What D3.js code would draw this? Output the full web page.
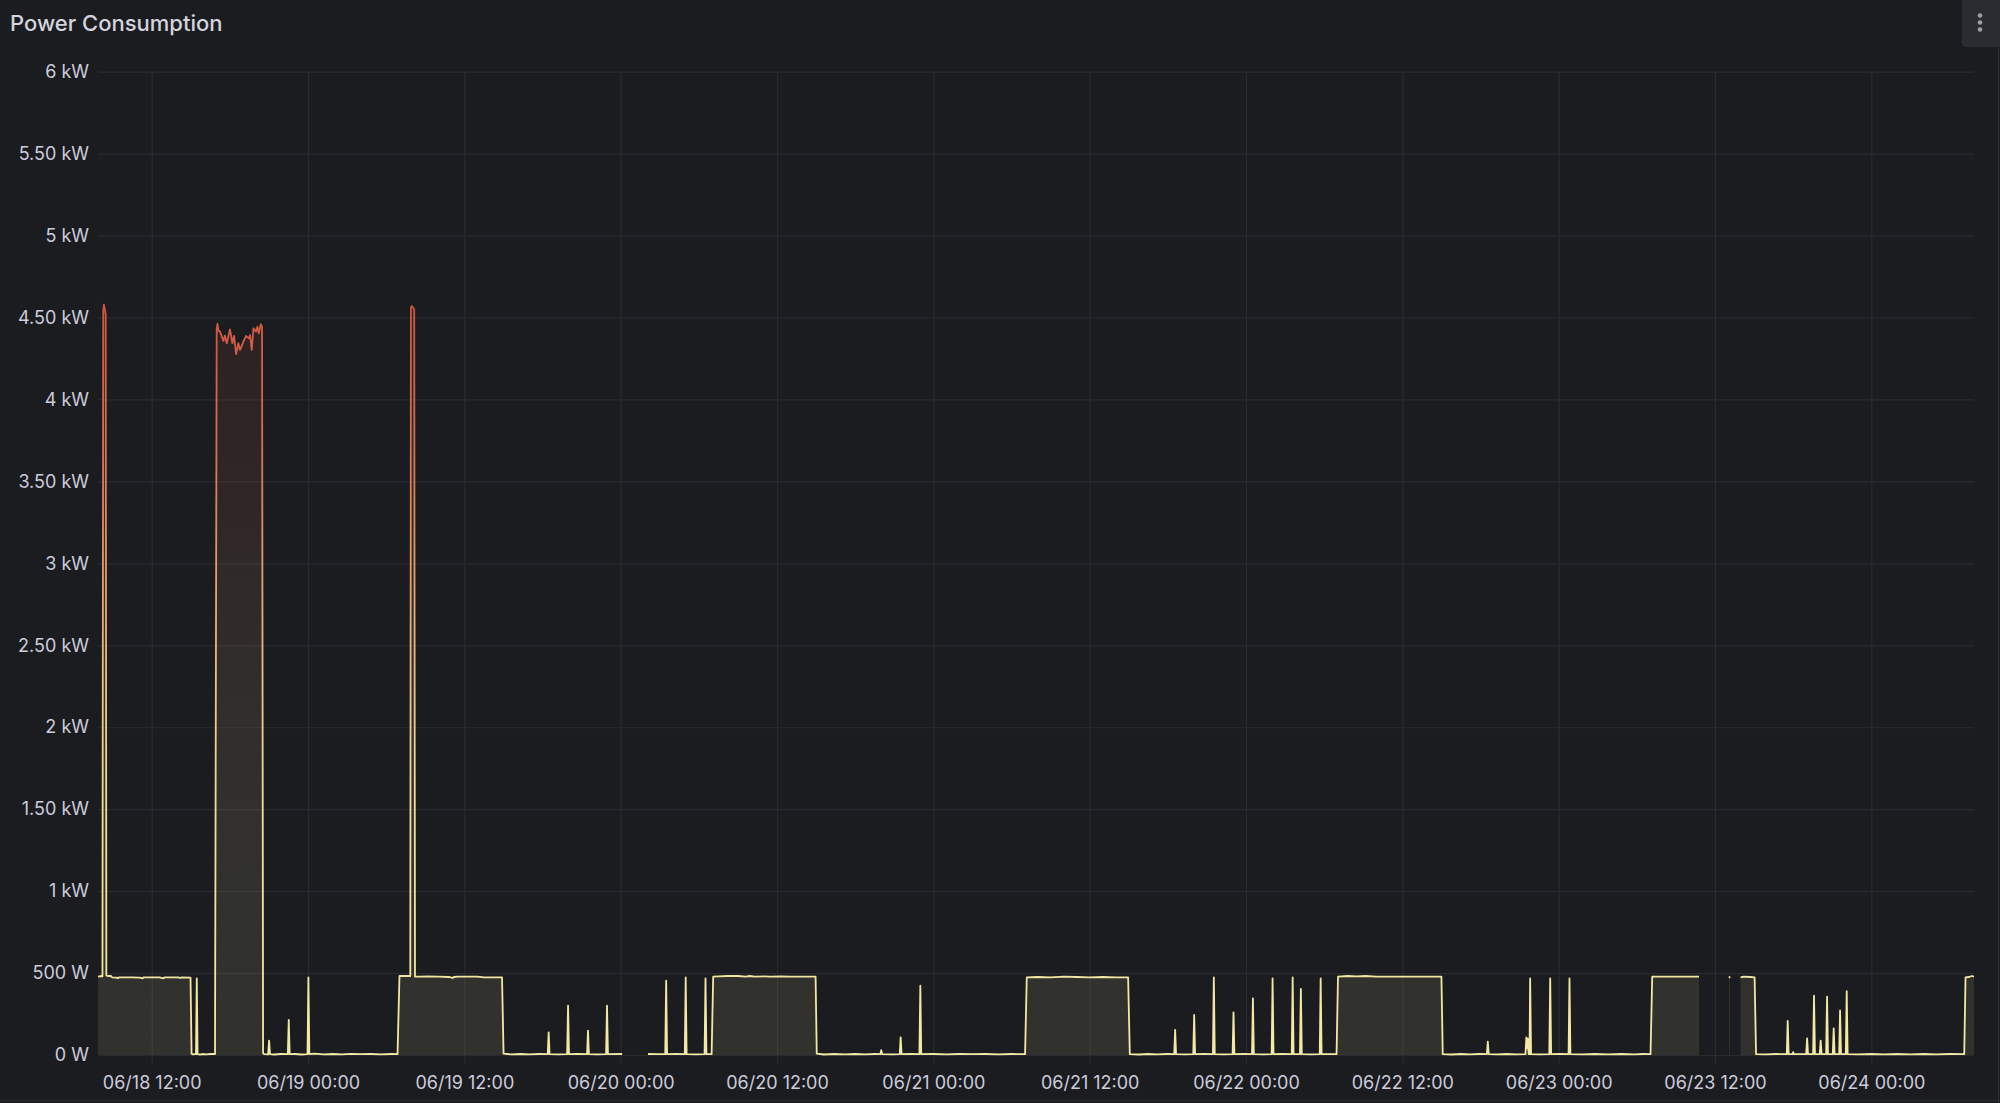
<!DOCTYPE html>
<html>
<head>
<meta charset="utf-8">
<script src="https://cdn.jsdelivr.net/npm/d3@7"></script>
<style>
  html, body { margin: 0; padding: 0; background: #1b1c20; overflow: hidden; }
  svg { display: block; }
  text { font-family: Inter, "Noto Sans", sans-serif; }
</style>
</head>
<body>
<svg id="chart" width="2000" height="1103"></svg>
<script>
// ---------------- DATA ----------------
const chartTitle = "Power Consumption";
const baseDate = new Date(2024, 5, 18, 0, 0, 0); // 06/18 00:00
// visible window, hours since 06/18 00:00
const windowHours = [7.878, 151.88];

const yTickValues = [0, 500, 1000, 1500, 2000, 2500, 3000, 3500, 4000, 4500, 5000, 5500, 6000];
const yTickLabels = ["0 W", "500 W", "1 kW", "1.50 kW", "2 kW", "2.50 kW", "3 kW", "3.50 kW", "4 kW", "4.50 kW", "5 kW", "5.50 kW", "6 kW"];

const xTickHours = [12, 24, 36, 48, 60, 72, 84, 96, 108, 120, 132, 144];
const xTickLabels = ["06/18 12:00", "06/19 00:00", "06/19 12:00", "06/20 00:00", "06/20 12:00", "06/21 00:00",
                     "06/21 12:00", "06/22 00:00", "06/22 12:00", "06/23 00:00", "06/23 12:00", "06/24 00:00"];

// [hours since 06/18 00:00, watts] — contiguous runs of samples (gaps between runs)
const run1 = [
  [7.88, 478], [8.15, 482], [8.22, 480], [8.28, 4540], [8.33, 4578], [8.40, 4550], [8.47, 4520], [8.52, 485],
  [8.70, 482], [8.88, 482], [8.95, 474], [9.3, 472], [9.4, 468], [9.5, 474], [10.5, 474], [11.1, 472],
  [11.3, 468], [11.4, 474], [12.6, 474], [12.9, 468], [13.0, 474], [14.0, 474], [14.2, 470], [14.3, 474],
  [14.98, 472], [15.06, 8], [15.15, 4], [15.32, 5], [15.40, 5], [15.46, 468], [15.52, 5], [15.7, 3], [15.9, 6],
  [16.2, 4], [16.5, 6], [16.86, 6],
  [16.99, 4428], [17.05, 4462], [17.12, 4420], [17.25, 4414], [17.50, 4357], [17.62, 4390], [17.76, 4343], [18.01, 4428],
  [18.19, 4343], [18.32, 4388], [18.48, 4277], [18.65, 4343], [18.78, 4302], [19.04, 4353],
  [19.24, 4388], [19.47, 4373], [19.55, 4393], [19.68, 4302], [19.81, 4434], [20.01, 4414],
  [20.11, 4444], [20.22, 4404], [20.37, 4459], [20.47, 4444],
  [20.55, 10], [20.65, 5], [20.94, 4], [21.01, 88], [21.08, 5], [21.4, 3], [21.9, 6], [22.45, 5],
  [22.52, 214], [22.59, 5], [23.0, 6], [23.5, 3], [23.96, 5], [24.03, 474], [24.10, 5], [24.5, 8],
  [25.2, 4], [25.9, 6], [26.6, 4], [27.3, 7], [28.0, 5], [28.8, 6], [29.6, 4], [30.4, 6], [30.87, 5],
  [31.02, 482], [31.6, 482], [31.85, 482], [31.90, 4560], [31.96, 4570], [32.05, 4562], [32.15, 4548], [32.21, 478],
  [32.6, 478], [33.2, 480], [34.0, 478], [34.8, 476], [35.1, 470], [35.2, 476], [35.5, 478], [36.3, 478],
  [37.0, 478], [37.5, 474], [38.2, 474], [38.89, 474], [39.01, 8], [39.6, 4], [40.3, 6], [41.0, 4],
  [41.7, 6], [42.40, 5], [42.47, 138], [42.54, 5], [43.2, 4], [43.89, 5], [43.96, 301], [44.03, 5],
  [44.7, 6], [45.42, 5], [45.49, 148], [45.56, 5], [46.2, 4], [46.88, 5], [46.95, 301], [47.02, 5], [48.11, 6]
];

const run2 = [
  [50.10, 6], [50.8, 5], [51.42, 5], [51.49, 453], [51.56, 5], [52.2, 6], [52.92, 5], [52.99, 474], [53.06, 5],
  [53.8, 4], [54.44, 5], [54.51, 468], [54.58, 5], [54.98, 5], [55.10, 478], [55.5, 480], [56.2, 482],
  [57.0, 482], [57.6, 478], [57.9, 482], [58.3, 478], [59.0, 480], [59.5, 478], [60.3, 480], [61.0, 478],
  [62.0, 478], [62.96, 478], [63.05, 8], [63.6, 3], [64.4, 6], [65.2, 4], [66.0, 6], [66.8, 4], [67.5, 6],
  [67.93, 5], [68.0, 30], [68.07, 5], [68.8, 4], [69.42, 5], [69.49, 108], [69.56, 5], [70.3, 6],
  [70.93, 5], [71.0, 423], [71.07, 5], [72.0, 6], [73.0, 4], [74.0, 6], [75.0, 5], [76.0, 6], [77.0, 4],
  [78.0, 6], [79.04, 5], [79.17, 474], [80.0, 476], [81.0, 474], [82.0, 478], [83.0, 476], [84.0, 474],
  [85.0, 476], [86.0, 474], [86.95, 474], [87.08, 5], [87.8, 3], [88.5, 6], [89.2, 4], [89.9, 6],
  [90.49, 5], [90.56, 153], [90.63, 5], [91.3, 4], [91.95, 5], [92.02, 244], [92.09, 5], [92.8, 6],
  [93.46, 5], [93.53, 474], [93.60, 5], [94.3, 4], [94.97, 5], [95.04, 260], [95.11, 5], [95.8, 6],
  [96.46, 5], [96.53, 346], [96.60, 5], [97.3, 4], [97.97, 5], [98.04, 468], [98.11, 5], [98.8, 6],
  [99.51, 5], [99.58, 474], [99.65, 5], [100.14, 5], [100.21, 403], [100.28, 5], [101.0, 4],
  [101.66, 5], [101.73, 468], [101.80, 5], [102.95, 5], [103.06, 478], [103.8, 482], [104.5, 480],
  [105.2, 482], [106.0, 478], [107.0, 478], [108.0, 478], [109.0, 478], [110.0, 478], [111.0, 478],
  [111.10, 5], [111.8, 3], [112.5, 6], [113.2, 4], [113.9, 6], [114.49, 5], [114.56, 81], [114.63, 5],
  [115.3, 4], [116.0, 6], [116.8, 4], [117.45, 5], [117.52, 108], [117.58, 40], [117.63, 100], [117.70, 5],
  [117.76, 5], [117.81, 468], [117.88, 5], [118.6, 4], [119.28, 5], [119.35, 468], [119.42, 5], [120.1, 6],
  [120.76, 5], [120.83, 468], [120.90, 5], [121.8, 4], [122.8, 6], [123.8, 4], [124.8, 6], [125.8, 4],
  [126.5, 6], [127.05, 5], [127.18, 478], [128.0, 478], [129.0, 478], [130.0, 478], [130.77, 478]
];

const run3 = [[133.08, 480], [133.15, 470]];

const run4 = [
  [133.96, 474], [134.2, 478], [134.7, 476], [135.04, 474], [135.15, 5], [135.9, 4], [136.7, 6],
  [137.51, 5], [137.58, 208], [137.65, 5], [137.95, 5], [138.0, 18], [138.05, 5], [139.0, 5],
  [139.07, 101], [139.14, 5], [139.53, 5], [139.60, 362], [139.67, 5], [140.04, 5], [140.11, 88],
  [140.18, 5], [140.53, 5], [140.60, 356], [140.67, 5], [141.04, 5], [141.11, 163], [141.18, 5],
  [141.53, 5], [141.60, 272], [141.67, 5], [142.04, 5], [142.11, 389], [142.18, 5], [143.0, 4],
  [144.0, 6], [145.0, 4], [146.0, 6], [147.0, 4], [148.0, 6], [149.0, 4], [150.0, 6], [151.13, 5],
  [151.23, 474], [151.5, 476], [151.7, 482], [151.88, 478]
];

const runs = [run1, run2, run3, run4];

// colour scheme stops (value in W -> colour)
const schemeValues = [0, 1500, 2300, 3000, 3700, 4600];
const schemeColors = ["#f3e9a6", "#f1df98", "#ecc183", "#e39a6a", "#d8714f", "#cf5440"];

// ---------------- CHART ----------------
const W = 2000, H = 1103;
const plot = { left: 98, right: 1974, top: 71.7, bottom: 1055 };
const svg = d3.select("#chart");
const toDate = h => new Date(baseDate.getTime() + h * 3600 * 1000);

svg.append("rect").attr("width", W).attr("height", H).attr("fill", "#1b1c20");

const x = d3.scaleTime().domain(windowHours.map(toDate)).range([plot.left, plot.right]);
const y = d3.scaleLinear().domain([0, 6000]).range([plot.bottom, plot.top]);

// title
svg.append("text").attr("x", 10).attr("y", 31)
  .attr("fill", "#d3d4de").attr("font-size", 22).attr("font-weight", 500)
  .text(chartTitle);

// menu button
svg.append("rect").attr("x", 1962).attr("y", -6).attr("width", 40).attr("height", 53).attr("rx", 4)
  .attr("fill", "#2b2c31");
[15.5, 22.5, 29.5].forEach(cy => svg.append("circle").attr("cx", 1980).attr("cy", cy).attr("r", 2.3).attr("fill", "#9d9eaa"));

// panel borders
svg.append("line").attr("x1", 1998.5).attr("x2", 1998.5).attr("y1", 47).attr("y2", H).attr("stroke", "#2c2d33");
svg.append("line").attr("x1", 0).attr("x2", W).attr("y1", 1100.5).attr("y2", 1100.5).attr("stroke", "#2c2d33");

// grid (via axes)
const yGrid = svg.append("g").attr("transform", `translate(${plot.left},0)`)
  .call(d3.axisLeft(y).tickValues(yTickValues).tickSize(-(plot.right - plot.left)).tickFormat(""));
yGrid.select(".domain").remove();
yGrid.selectAll("line").attr("stroke", "#2a2b30").attr("stroke-width", 1.2);

const xGrid = svg.append("g").attr("transform", `translate(0,${plot.bottom + 8})`)
  .call(d3.axisBottom(x).tickValues(xTickHours.map(toDate)).tickSize(-(plot.bottom + 8 - plot.top)).tickFormat(""));
xGrid.select(".domain").remove();
xGrid.selectAll("line").attr("stroke", "#2a2b30").attr("stroke-width", 1.2);

// y axis labels
const yAxis = svg.append("g").attr("transform", `translate(${plot.left},0)`)
  .call(d3.axisLeft(y).tickValues(yTickValues).tickSize(0).tickPadding(9)
    .tickFormat((d, i) => yTickLabels[i]));
yAxis.select(".domain").remove();
yAxis.selectAll("text").attr("fill", "#ccccdc").attr("font-size", 18)
  .attr("font-family", "Inter, 'Noto Sans', sans-serif");

// x axis labels
const xAxis = svg.append("g").attr("transform", `translate(0,${plot.bottom})`)
  .call(d3.axisBottom(x).tickValues(xTickHours.map(toDate)).tickSize(0).tickPadding(21)
    .tickFormat((d, i) => xTickLabels[i]));
xAxis.select(".domain").remove();
xAxis.selectAll("text").attr("fill", "#ccccdc").attr("font-size", 18)
  .attr("font-family", "Inter, 'Noto Sans', sans-serif");

// gradient by value
const defs = svg.append("defs");
const grad = defs.append("linearGradient").attr("id", "scheme")
  .attr("gradientUnits", "userSpaceOnUse")
  .attr("x1", 0).attr("x2", 0).attr("y1", y(0)).attr("y2", y(schemeValues[schemeValues.length - 1]));
schemeValues.forEach((v, i) => {
  grad.append("stop").attr("offset", v / schemeValues[schemeValues.length - 1]).attr("stop-color", schemeColors[i]);
});

const area = d3.area().x(d => x(toDate(d[0]))).y0(y(0)).y1(d => y(d[1]));
const line = d3.line().x(d => x(toDate(d[0]))).y(d => y(d[1]));

const g = svg.append("g");
g.selectAll("path.area").data(runs).join("path").attr("class", "area")
  .attr("d", area).attr("fill", "url(#scheme)").attr("fill-opacity", 0.1);
g.selectAll("path.line").data(runs).join("path").attr("class", "line")
  .attr("d", line).attr("fill", "none").attr("stroke", "url(#scheme)")
  .attr("stroke-width", 1.8).attr("stroke-linejoin", "round");
</script>
</body>
</html>
